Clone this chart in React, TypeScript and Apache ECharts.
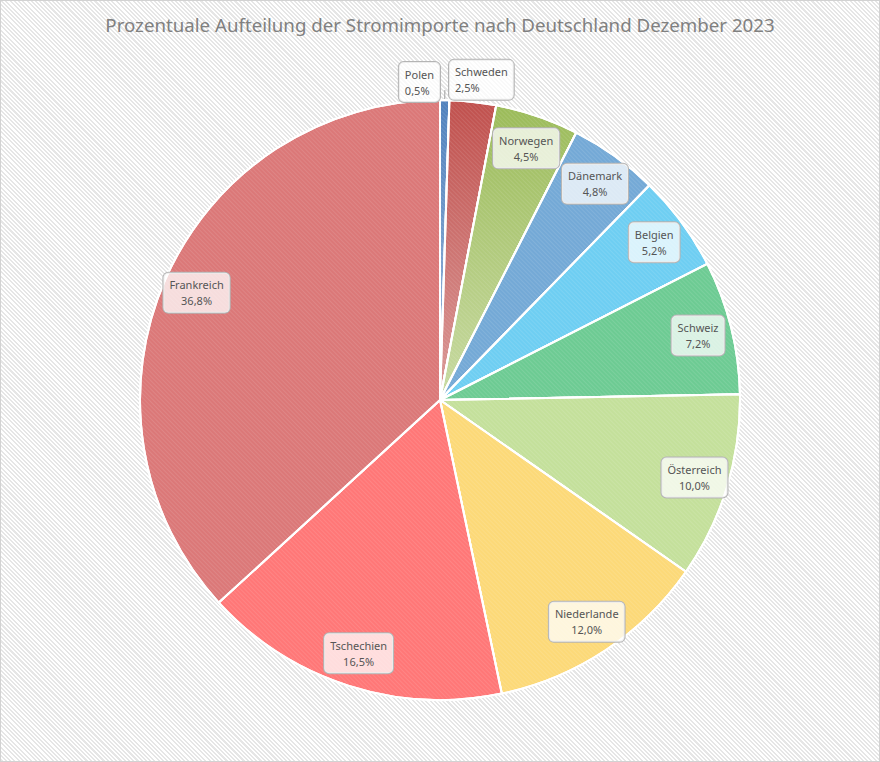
import React, { useEffect, useRef } from "react";
import * as echarts from "echarts";

const TITLE = "Prozentuale Aufteilung der Stromimporte nach Deutschland Dezember 2023";
const countries = ["Polen", "Schweden", "Norwegen", "Dänemark", "Belgien", "Schweiz", "Österreich", "Niederlande", "Tschechien", "Frankreich"];
const shares = [0.5, 2.5, 4.5, 4.8, 5.2, 7.2, 10.0, 12.0, 16.5, 36.8];
const outerLabelCountries = ["Polen", "Schweden"];

const grad = (top: string, bottom: string) => ({
  type: "linear", x: 0, y: 0, x2: 0, y2: 1,
  colorStops: [{ offset: 0, color: top }, { offset: 1, color: bottom }],
});

const sliceColors: any[] = [
  grad("#4F81BD", "#9DB8DB"),
  grad("#C0504D", "#DA9997"),
  grad("#9BBB59", "#C8DAA2"),
  "#74A9D6",
  "#6ECEF2",
  "#6DCB93",
  "#C4E09B",
  "#FCD978",
  "#FF7777",
  "#DB7878",
];

const FONT = "'Noto Sans', 'Open Sans', sans-serif";
const PIE_RADIUS = 300;
const LABEL_RADIUS = 266;
const fmtVal = (v: number) => `${v.toFixed(1).replace(".", ",")}%`;

const labelBox = {
  color: "#555555",
  fontFamily: FONT,
  fontSize: 11,
  lineHeight: 16,
  backgroundColor: "rgba(255,255,255,0.75)",
  borderColor: "#b4b4b4",
  borderWidth: 1,
  borderRadius: 5,
  padding: [4, 6],
  align: "center",
};

export default function App() {
  const ref = useRef<HTMLDivElement>(null);
  useEffect(() => {
    if (!ref.current) return;
    const chart = echarts.init(ref.current, undefined, { renderer: "svg" });
    const decal = {
      symbol: "rect",
      symbolSize: 1,
      dashArrayX: [1, 0],
      dashArrayY: [1, 2],
      rotation: Math.PI / 4,
      color: "rgba(255,255,255,0.10)",
    };
    const total = shares.reduce((a, b) => a + b, 0);
    const mainData = countries.map((name, i) => {
      const outer = outerLabelCountries.includes(name);
      return {
        name,
        value: shares[i],
        itemStyle: { color: sliceColors[i], decal },
        label: outer
          ? { show: true, position: "outside", formatter: (p: any) => `${p.name}\n${fmtVal(p.value)}`, ...labelBox }
          : { show: false },
        labelLine: { show: name === "Polen", length: 10, length2: 0, lineStyle: { color: "#a0a0a0", width: 1 } },
      };
    });
    // label anchor points: mid-angle of each slice (cumulative share) at a fixed radius
    let cum = 0;
    const labelPoints: any[] = [];
    countries.forEach((name, i) => {
      const mid = cum + shares[i] / 2;
      cum += shares[i];
      if (!outerLabelCountries.includes(name)) {
        labelPoints.push({ name, value: [LABEL_RADIUS, mid], share: shares[i] });
      }
    });
    chart.setOption({
      animation: false,
      backgroundColor: "transparent",
      title: {
        text: TITLE,
        left: "center",
        top: 10,
        textStyle: { color: "#808080", fontFamily: FONT, fontSize: 18.7, fontWeight: "normal" },
      },
      polar: { center: ["50%", 400], radius: PIE_RADIUS },
      angleAxis: { type: "value", min: 0, max: total, startAngle: 90, clockwise: true, show: false },
      radiusAxis: { type: "value", min: 0, max: PIE_RADIUS, show: false },
      series: [
        {
          type: "pie",
          center: ["50%", 400],
          radius: [0, PIE_RADIUS],
          startAngle: 90,
          clockwise: true,
          avoidLabelOverlap: false,
          silent: true,
          z: 1,
          itemStyle: { borderColor: "#ffffff", borderWidth: 2 },
          data: mainData,
          labelLayout: (p: any) => {
            if (p.dataIndex === 0) return { dx: -51, dy: -8 };
            if (p.dataIndex === 1) return { dx: -30, dy: -12 };
            return {};
          },
        },
        {
          type: "scatter",
          coordinateSystem: "polar",
          symbol: "circle",
          symbolSize: 1,
          silent: true,
          z: 5,
          itemStyle: { color: "rgba(0,0,0,0)", opacity: 1 },
          label: {
            show: true,
            position: "inside",
            formatter: (p: any) => `${p.name}\n${fmtVal(p.data.share)}`,
            ...labelBox,
          },
          data: labelPoints,
        },
      ],
    });
    return () => chart.dispose();
  }, []);
  return (
    <div
      ref={ref}
      style={{
        position: "fixed",
        left: 0,
        top: 0,
        width: 880,
        height: 762,
        boxShadow: "inset 0 0 0 1px #d2d2d2",
        background:
          "repeating-linear-gradient(45deg, #ffffff 0px, #ffffff 1.5px, #e6e6e6 1.5px, #e6e6e6 3px)",
      }}
    />
  );
}
